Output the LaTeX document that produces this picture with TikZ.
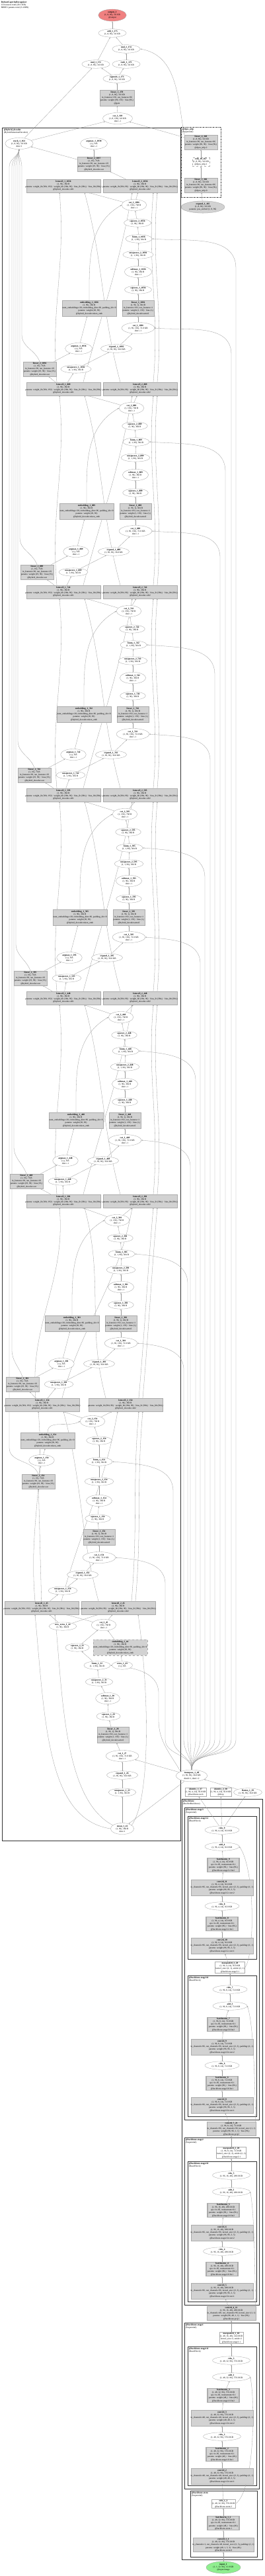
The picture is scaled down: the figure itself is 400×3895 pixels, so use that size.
\documentclass[tikz,border=0pt]{standalone}
\usepackage{fontspec}
\setmainfont{Liberation Serif}
\usetikzlibrary{positioning, shapes.geometric, backgrounds, arrows.meta}

\definecolor{outred}{RGB}{240,128,128}
\definecolor{ingreen}{RGB}{144,238,144}

\newcommand{\tvfont}{\fontsize{3.4}{4.1}\selectfont}
\newcommand{\tv}[2]{\textbf{#1}\\#2}
\newcommand{\ovf}[1]{\makebox[0pt]{#1}}

% texts of the decoder steps
\newcommand{\lstmtext}[3]{\tv{lstmcell\_#1\_#2}{(1, 96), 384 B\\\ovf{params: weight\_ih (384, #3) · weight\_hh (384, 96) · bias\_ih (384,) · bias\_hh (384,)}\\@hybrid\_decoder.cell#1}}
\newcommand{\cattext}[1]{\tv{cat\_2\_#1}{(1, 192), 768 B\\dim=-1}}
\newcommand{\sqtext}[1]{\tv{squeeze\_2\_#1}{(1, 96), 384 B}}
\newcommand{\bmmtext}[1]{\tv{bmm\_1\_#1}{(1, 1, 96), 384 B}}
\newcommand{\ustext}[1]{\tv{unsqueeze\_2\_#1}{(1, 1, 96), 384 B}}
\newcommand{\smtext}[1]{\tv{softmax\_1\_#1}{(1, 96), 384 B\\dim=-1}}
\newcommand{\satext}[1]{\tv{squeeze\_1\_#1}{(1, 96), 384 B}}
\newcommand{\attntext}[1]{\tv{linear\_1\_#1}{(1, 96, 1), 384 B\\in\_features=192, out\_features=1\\params: weight (1, 192) · bias (1,)\\@hybrid\_decoder.attn.0}}
\newcommand{\embtext}[1]{\tv{embedding\_1\_#1}{(1, 96), 384 B\\\ovf{num\_embeddings=20, embedding\_dim=96, padding\_idx=0}\\params: weight (20, 96)\\@hybrid\_decoder.token\_emb}}
\newcommand{\cqtext}[1]{\tv{cat\_1\_#1}{(1, 96, 192), 72.0 KB\\dim=-1}}
\newcommand{\amtext}[1]{\tv{argmax\_1\_#1}{(1,), 8 B\\dim=-1}}
\newcommand{\extext}[1]{\tv{expand\_1\_#1}{(1, 96, 96), 36.0 KB}}
\newcommand{\outtext}[1]{\tv{linear\_2\_#1}{(1, 19), 76 B\\in\_features=96, out\_features=19\\params: weight (19, 96) · bias (19,)\\@hybrid\_decoder.out}}
\newcommand{\uqtext}[1]{\tv{unsqueeze\_1\_#1}{(1, 1, 96), 384 B}}

\tikzset{
  opnode/.style={ellipse, draw=gray!75, line width=0.3pt, fill=white, inner xsep=3pt, inner ysep=0.8pt, align=center, font=\tvfont},
  modnode/.style={rectangle, draw=gray!65, line width=0.5pt, fill=gray!35, inner sep=0.8pt, align=center, font=\tvfont},
  lstmnode/.style={modnode, minimum width=112, minimum height=20},
  attnnode/.style={modnode, minimum width=48, minimum height=24},
  embnode/.style={modnode, minimum width=82, minimum height=24},
  outnode/.style={modnode, minimum width=50, minimum height=22},
  bnnode/.style={modnode, line width=1.2pt, minimum width=48},
  convnode/.style={modnode, minimum width=94, minimum height=24},
  plainbox/.style={rectangle, draw=gray!65, line width=0.4pt, fill=white, inner sep=0.8pt, align=center, font=\tvfont},
  cluster/.style={draw=black!80, line width=1pt},
  subcluster/.style={draw=black!80, line width=0.7pt},
  clusterlabel/.style={anchor=north west, inner sep=0.6pt, align=left, font=\tvfont},
  conn/.style={->, >={Stealth[length=2.2pt,width=1.6pt]}, draw=gray!80, line width=0.3pt},
}

\begin{document}
\begin{tikzpicture}[x=1pt, y=-1pt]
\useasboundingbox (0,0) rectangle (400,3895);

% title
\node[clusterlabel] (title) at (1,1) {\textbf{RobustCaptchaRecognizer}\\133 tensors total (20.1 KB)\\888051 params total (3.4 MB)};

% output head
\node[opnode, fill=outred] (outp) at (170,23) {\tv{output\_1}{(1, 8, 96), 3.0 KB\\@output}};
\node[opnode] (add1) at (170,50) {\tv{add\_1\_175}{(1, 8, 96), 3.0 KB}};
\node[opnode] (mul2) at (191,74) {\tv{mul\_2\_174}{(1, 8, 96), 3.0 KB}};
\node[opnode] (mul1) at (145,97) {\tv{mul\_1\_172}{(1, 8, 96), 3.0 KB}};
\node[opnode] (rsub1) at (191,97) {\tv{rsub\_1\_173}{(1, 8, 96), 3.0 KB}};
\node[opnode] (sig1) at (177,119) {\tv{sigmoid\_1\_171}{(1, 8, 96), 3.0 KB}};
\node[attnnode] (gate) at (177,148) {\tv{linear\_5\_170}{(1, 8, 96), 3.0 KB\\in\_features=192, out\_features=96\\params: weight (96, 192) · bias (96,)\\@gate}};
\node[opnode] (cat1) at (178,179) {\tv{cat\_1\_169}{(1, 8, 192), 6.0 KB\\dim=-1}};

% dpos_mlp
\node[clusterlabel] (lbdpos) at (275,193) {\textbf{@dpos\_mlp}\\(Sequential)};
\node[outnode] (dlin2) at (304,215) {\tv{linear\_4\_168}{(1, 8, 96), 3.0 KB\\in\_features=96, out\_features=96\\params: weight (96, 96) · bias (96,)\\@dpos\_mlp.2}};
\node[plainbox, dashed] (drelu) at (304,245) {\tv{relu\_10\_167}{(1, 8, 96), 3.0 KB\\@dpos\_mlp.1}};
\node[outnode] (dlin1) at (304,280) {\tv{linear\_3\_166}{(1, 8, 96), 3.0 KB\\in\_features=96, out\_features=96\\params: weight (96, 96) · bias (96,)\\@dpos\_mlp.0}};
\node[opnode, fill=gray!35] (expand1) at (307,313) {\tv{expand\_1\_165}{(1, 8, 96), 3.0 KB\\params: pos\_embed (1, 8, 96)}};

% decoder, top
\node[clusterlabel] (lbdec) at (5,194) {\textbf{@hybrid\_decoder}\\(HybridAttentionDecoder)};
\node[opnode] (stack1) at (29,217) {\tv{stack\_1\_164}{(1, 8, 96), 3.0 KB\\dim=1}};
\node[opnode] (amax0) at (142,217) {\amtext{1038}};
\node[outnode] (lin1) at (142,248) {\outtext{1037}};

% decoder, one block per step
\foreach \i/\s in {0/0, 1/-4, 2/-8, 3/-14, 4/-20, 5/-26} {
  \pgfmathsetmacro{\Y}{281+307*\i}
  \pgfmathtruncatemacro{\k}{1036-147*\i}
  \node[lstmnode] (la\i) at (96,\Y) {\lstmtext{1}{\k}{192}};
  \node[lstmnode] (lb\i) at (212,\Y) {\lstmtext{2}{\k}{96}};
  \node[opnode] (cc\i) at (203+\s,\Y+29) {\cattext{\k}};
  \node[opnode] (sq\i) at (208+\s,\Y+56) {\sqtext{\k}};
  \node[opnode] (bm\i) at (210+\s,\Y+80) {\bmmtext{\k}};
  \node[opnode] (us\i) at (209+\s,\Y+104) {\ustext{\k}};
  \node[opnode] (sm\i) at (209+\s,\Y+130) {\smtext{\k}};
  \node[opnode] (sa\i) at (209+\s,\Y+157) {\satext{\k}};
  \node[attnnode] (ln\i) at (209+\s,\Y+185) {\attntext{\k}};
  \node[embnode] (em\i) at (135+\s,\Y+185) {\embtext{\k}};
  \node[opnode] (cq\i) at (209+\s,\Y+215) {\cqtext{\k}};
  \node[opnode] (am\i) at (119+\s,\Y+246) {\amtext{\k}};
  \node[opnode] (ex\i) at (176+\s,\Y+246) {\extext{\k}};
  \node[outnode] (lo\i) at (60+\s,\Y+277) {\outtext{\k}};
  \node[opnode] (uq\i) at (115+\s,\Y+277) {\uqtext{\k}};
}

% step 6
\node[lstmnode] (la6) at (64,2124) {\lstmtext{1}{154}{192}};
\node[lstmnode] (lb6) at (190,2124) {\lstmtext{2}{154}{96}};
\node[opnode] (cc6) at (140,2149) {\cattext{154}};
\node[opnode] (sq6) at (150,2178) {\sqtext{154}};
\node[embnode] (em6) at (72,2178) {\embtext{154}};
\node[opnode] (bm6) at (150,2210) {\bmmtext{154}};
\node[opnode] (am6) at (63,2208) {\amtext{154}};
\node[opnode] (us6) at (150,2240) {\ustext{154}};
\node[outnode] (lo6) at (58,2240) {\outtext{154}};
\node[opnode] (sm6) at (150,2269) {\smtext{154}};
\node[opnode] (sa6) at (148,2296) {\satext{154}};
\node[attnnode] (ln6) at (150,2324) {\attntext{154}};
\node[opnode] (cq6) at (150,2355) {\cqtext{154}};
\node[opnode] (ex6) at (125,2381) {\extext{154}};
\node[opnode] (uq6) at (95,2405) {\uqtext{154}};

% step 7, first step
\node[lstmnode] (la7) at (63,2431) {\lstmtext{1}{45}{192}};
\node[lstmnode] (lb7) at (179,2431) {\lstmtext{2}{45}{96}};
\node[opnode] (cc7) at (157,2457) {\cattext{45}};
\node[opnode] (nz) at (95,2459) {\tv{new\_zeros\_1\_42}{(1, 96), 384 B}};
\node[opnode] (sq7) at (117,2491) {\sqtext{33}};
\node[embnode, dashed] (em7) at (182,2491) {\embtext{44}};
\node[opnode] (bm7) at (147,2518) {\bmmtext{32}};
\node[opnode] (zr) at (185,2518) {\tv{zeros\_1\_43}{(1,), 8 B}};
\node[opnode] (us7) at (150,2543) {\ustext{31}};
\node[opnode] (sm7) at (163,2568) {\smtext{30}};
\node[opnode] (sa7) at (164,2595) {\satext{29}};
\node[attnnode] (ln7) at (171,2623) {\attntext{28}};
\node[opnode] (cq7) at (185,2655) {\cqtext{27}};
\node[opnode] (ex7) at (185,2684) {\extext{26}};
\node[opnode] (uq7) at (185,2710) {\uqtext{25}};
\node[opnode] (mean) at (185,2765) {\tv{mean\_1\_41}{(1, 96), 384 B\\dim=1}};

% memory
\node[opnode] (tr) at (290,2685) {\tv{transpose\_1\_40}{(1, 96, 96), 36.0 KB\\dim0=1, dim1=2}};
\node[plainbox] (id1) at (296,2710) {\tv{identity\_1\_37}{(1, 96, 4, 24), 36.0 KB\\@backbone.neck}};
\node[plainbox] (id2) at (334,2710) {\tv{identity\_2\_38}{(1, 96, 4, 24), 36.0 KB\\@drop}};
\node[opnode, inner xsep=1.5pt] (flat) at (375,2710) {\tv{flatten\_1\_39}{(1, 96, 96), 36.0 KB}};

% backbone
\node[clusterlabel] (lbbb) at (276,2721) {\textbf{@backbone}\\(ResNetBackbone)};
\node[clusterlabel] (lbs3) at (280,2734) {\textbf{@backbone.stage3}\\(Sequential)};
\node[clusterlabel] (lbs32) at (285,2747) {\textbf{@backbone.stage3.2}\\(BasicBlock)};
\node[clusterlabel] (lbs30) at (285,2988) {\textbf{@backbone.stage3.0}\\(BasicBlock)};
\node[clusterlabel] (lbs2) at (280,3233) {\textbf{@backbone.stage2}\\(Sequential)};
\node[clusterlabel] (lbs20) at (285,3269) {\textbf{@backbone.stage2.0}\\(BasicBlock)};
\node[clusterlabel] (lbs1) at (280,3513) {\textbf{@backbone.stage1}\\(Sequential)};
\node[clusterlabel] (lbs10) at (285,3549) {\textbf{@backbone.stage1.0}\\(BasicBlock)};
\node[clusterlabel] (lbstem) at (289,3767) {\textbf{@backbone.stem}\\(Sequential)};

\foreach \blk/\ty/\xr/\ch/\shp/\stg/\cn/\mnum/\addn in {s10/3548/350/48/{(1, 48, 32, 96), 576.0 KB}/stage1.0/2/2/1, s20/3268/350/96/{(1, 96, 16, 48), 288.0 KB}/stage2.0/5/4/2, s30/2987/348/96/{(1, 96, 8, 24), 72.0 KB}/stage3.0/8/6/3, s32/2746/336/96/{(1, 96, 4, 24), 36.0 KB}/stage3.2/10/8/4} {
  \pgfmathtruncatemacro{\cnb}{\cn+1}
  \pgfmathtruncatemacro{\mnb}{\mnum+1}
  \node[opnode] (\blk r2) at (\xr,\ty+21) {\tv{relu\_\mnb}{\shp}};
  \node[opnode] (\blk ad) at (\xr,\ty+46) {\tv{add\_\addn}{\shp}};
  \node[bnnode] (\blk bn2) at (338,\ty+74) {\tv{batchnorm\_\mnb}{\shp\\eps=1e-05, momentum=0.1\\params: weight (\ch,) · bias (\ch,)\\@backbone.\stg.bn2}};
  \node[convnode] (\blk cv2) at (336,\ty+108) {\tv{conv2d\_\cnb}{\shp\\\ovf{in\_channels=\ch, out\_channels=\ch, kernel\_size=(3, 3), padding=(1, 1)}\\params: weight (\ch, \ch, 3, 3)\\@backbone.\stg.conv2}};
  \node[opnode] (\blk r1) at (336,\ty+136) {\tv{relu\_\mnum}{\shp}};
  \node[bnnode] (\blk bn1) at (336,\ty+163) {\tv{batchnorm\_\mnum}{\shp\\eps=1e-05, momentum=0.1\\params: weight (\ch,) · bias (\ch,)\\@backbone.\stg.bn1}};
  \node[convnode] (\blk cv1) at (336,\ty+196) {\tv{conv2d\_\cn}{\shp\\\ovf{in\_channels=\ch, out\_channels=\ch, kernel\_size=(3, 3), padding=(1, 1)}\\params: weight (\ch, \ch, 3, 3)\\@backbone.\stg.conv1}};
}

\node[plainbox] (mp3) at (348,2975) {\tv{maxpool2d\_3\_28}{(1, 96, 4, 24), 36.0 KB\\kernel\_size=(2, 1), stride=(2, 1)\\@backbone.stage3.1}};
\node[modnode, minimum width=74] (proj3) at (350,3219) {\tv{conv2d\_7\_21}{(1, 96, 8, 24), 72.0 KB\\\ovf{in\_channels=96, out\_channels=96, kernel\_size=(1, 1)}\\params: weight (96, 96, 1, 1) · bias (96,)\\@backbone.proj2}};
\node[plainbox] (mp2) at (350,3255) {\tv{maxpool2d\_2\_20}{(1, 96, 8, 24), 72.0 KB\\kernel\_size=(2, 2), stride=(2, 2)\\@backbone.stage2.1}};
\node[modnode, minimum width=74] (proj2) at (350,3498) {\tv{conv2d\_4\_12}{(1, 96, 16, 48), 288.0 KB\\\ovf{in\_channels=48, out\_channels=96, kernel\_size=(1, 1)}\\params: weight (96, 48, 1, 1) · bias (96,)\\@backbone.proj1}};
\node[plainbox] (mp1) at (350,3535) {\tv{maxpool2d\_1\_10}{(1, 48, 16, 48), 144.0 KB\\kernel\_size=2, stride=2\\@backbone.stage1.1}};
\node[plainbox] (stemr) at (338,3786) {\tv{relu\_1\_3}{(1, 48, 32, 96), 576.0 KB\\@backbone.stem.2}};
\node[bnnode] (stembn) at (338,3815) {\tv{batchnorm\_1\_2}{(1, 48, 32, 96), 576.0 KB\\eps=1e-05, momentum=0.1\\params: weight (48,) · bias (48,)\\@backbone.stem.1}};
\node[modnode, minimum width=92] (stemc) at (338,3848) {\tv{conv2d\_1\_1}{(1, 48, 32, 96), 576.0 KB\\\ovf{in\_channels=1, out\_channels=48, kernel\_size=(3, 3), padding=(1, 1)}\\params: weight (48, 1, 3, 3) · bias (48,)\\@backbone.stem.0}};
\node[opnode, fill=ingreen] (inp) at (338,3882) {\tv{input\_1}{(1, 1, 32, 96), 12.0 KB\\@input.image}};

\begin{pgfonlayer}{background}
  % clusters
  \draw[cluster] (3,193) rectangle (273,2783);
  \draw[cluster, dashed, dash pattern=on 1.5pt off 1pt] (274,192) rectangle (334,298);
  \draw[cluster] (275,2720) rectangle (397,3870);
  \draw[cluster] (279,2733) rectangle (392,3205);
  \draw[subcluster] (284,2746) rectangle (388,2962);
  \draw[subcluster] (284,2987) rectangle (388,3200);
  \draw[cluster] (279,3232) rectangle (392,3485);
  \draw[subcluster] (284,3268) rectangle (388,3480);
  \draw[cluster] (279,3512) rectangle (392,3763);
  \draw[subcluster] (284,3548) rectangle (388,3758);
  \draw[subcluster] (288,3766) rectangle (389,3866);

  % output head
  \draw[conn] (add1) -- (outp);
  \draw[conn] (mul1) -- (add1);
  \draw[conn] (mul2) -- (add1);
  \draw[conn] (rsub1) -- (mul2);
  \draw[conn] (sig1) -- (mul1);
  \draw[conn] (sig1) -- (rsub1);
  \draw[conn] (gate) -- (sig1);
  \draw[conn] (cat1) -- (gate);
  \draw[conn] (stack1) -- (mul1);
  \draw[conn] (stack1) -- (cat1);
  \draw[conn] (dlin2) -- (cat1);
  \draw[conn] (dlin2.north west) to[out=100,in=-10] (mul2.east);
  \draw[conn] (dlin1) -- (drelu);
  \draw[conn] (drelu) -- (dlin2);
  \draw[conn] (expand1) -- (dlin1);
  \draw[conn] (lin1) -- (stack1);
  \draw[conn] (lin1) -- (amax0);
  \draw[conn] (lb0) -- (lin1);

  % inside each step
  \foreach \i in {0,...,7} {
    \draw[conn] (cc\i) -- (la\i);
    \draw[conn] (cc\i) -- (lb\i);
    \draw[conn] (sq\i) -- (cc\i);
    \draw[conn] (bm\i) -- (sq\i);
    \draw[conn] (us\i) -- (bm\i);
    \draw[conn] (sm\i) -- (us\i);
    \draw[conn] (sa\i) -- (sm\i);
    \draw[conn] (ln\i) -- (sa\i);
    \draw[conn] (cq\i) -- (ln\i);
    \draw[conn] (ex\i) -- (cq\i);
    \draw[conn] (uq\i) -- (ex\i);
  }

  % from one step to the next
  \foreach \i in {0,...,6} {
    \pgfmathtruncatemacro{\j}{\i+1}
    \draw[conn] (la\j) -- (uq\i);
    \draw[conn] (la\j) -- (lo\i);
    \draw[conn] (lo\i) -- (am\i);
    \draw[conn] (am\i) -- (em\i);
    \draw[conn] (em\i.north) to[out=90,in=-150] (cc\i.west);
    \draw[conn] ([xshift=-10pt]la\j.north) to[out=95,in=-85] ([xshift=-6pt]la\i.south);
    \draw[conn] ([xshift=30pt]la\j.north) to[out=75,in=-100] ([xshift=-12pt]lb\i.south);
    \draw[conn] ([xshift=-30pt]lb\j.north) to[out=105,in=-75] ([xshift=32pt]la\i.south);
    \draw[conn] ([xshift=20pt]lb\j.north) to[out=85,in=-95] ([xshift=20pt]lb\i.south);
    \draw[conn] ([xshift=26pt]lb\j.north) to[out=85,in=-95] ([xshift=26pt]lb\i.south);
  }

  % outputs collected by stack
  \foreach \i/\xk/\yl in {0/33/546, 1/30/853, 2/27/1160, 3/24/1467, 4/21/1774, 5/18/2081, 6/14/2229} {
    \draw[conn] (lo\i.north) to[out=110,in=-90] (\xk,\yl-40) -- (\xk,252) to[out=90,in=-100] (stack1.south);
  }

  % memory to every step
  \foreach \i/\xb/\xc in {0/357/350, 1/341/333, 2/325/318, 3/310/303, 4/296/288, 5/284/278} {
    \pgfmathsetmacro{\yb}{281+307*\i+125}
    \pgfmathsetmacro{\yc}{281+307*\i+255}
    \draw[conn] (tr.north) to[out=90,in=-90] (\xb,2630) -- (\xb,\yb) to[out=90,in=-5] (bm\i.east);
    \draw[conn] (tr.north) to[out=90,in=-90] (\xc,2630) -- (\xc,\yc) to[out=90,in=-5] (cq\i.east);
  }
  \draw[conn] (tr.north) to[out=90,in=-90] (262,2630) -- (262,2255) to[out=90,in=-5] (bm6.east);
  \draw[conn] (tr.north) to[out=90,in=-90] (250,2630) -- (250,2395) to[out=90,in=-5] (cq6.east);
  \draw[conn] (tr.north west) to[out=120,in=-90] (240,2600) -- (240,2560) to[out=90,in=-5] (bm7.east);
  \draw[conn] (tr) -- (cq7);
  \draw[conn] (tr) -- (mean);

  % first step
  \draw[conn] (mean) -- (uq7);
  \draw[conn] (zr) -- (em7);
  \draw[conn] (em7) -- (cc7);
  \draw[conn] (nz) -- (la7);
  \draw[conn] (nz) -- (lb7);
  \draw[conn] (mean.west) .. controls (70,2750) and (68,2600) .. ([xshift=-10pt]la7.south);
  \draw[conn] (mean.160) .. controls (95,2720) and (95,2560) .. ([xshift=20pt]la7.south);
  \draw[conn] (mean.20) .. controls (228,2720) and (226,2560) .. ([xshift=30pt]lb7.south);

  % backbone
  \foreach \blk/\src/\sy/\ty in {s10/stemr/3786/3548, s20/proj2/3498/3268, s30/proj3/3219/2987, s32/mp3/2975/2746} {
    \draw[conn] (\blk cv1) -- (\blk bn1);
    \draw[conn] (\blk bn1) -- (\blk r1);
    \draw[conn] (\blk r1) -- (\blk cv2);
    \draw[conn] (\blk cv2) -- (\blk bn2);
    \draw[conn] (\blk bn2) -- (\blk ad);
    \draw[conn] (\blk ad) -- (\blk r2);
    \draw[conn] (\src) -- (\blk cv1);
    \draw[conn] (\src.east) .. controls (386,\sy-20) and (386,\ty+80) .. (\blk ad.east);
  }
  \draw[conn] (s10r2) -- (mp1);
  \draw[conn] (mp1) -- (proj2);
  \draw[conn] (s20r2) -- (mp2);
  \draw[conn] (mp2) -- (proj3);
  \draw[conn] (s30r2) -- (mp3);
  \draw[conn] (s32r2) -- (id1);
  \draw[conn] (s32r2) -- (id2);
  \draw[conn] (s32r2) -- (flat);
  \draw[conn] (flat) -- (tr);
  \draw[conn] (inp) -- (stemc);
  \draw[conn] (stemc) -- (stembn);
  \draw[conn] (stembn) -- (stemr);
\end{pgfonlayer}
\end{tikzpicture}
\end{document}
